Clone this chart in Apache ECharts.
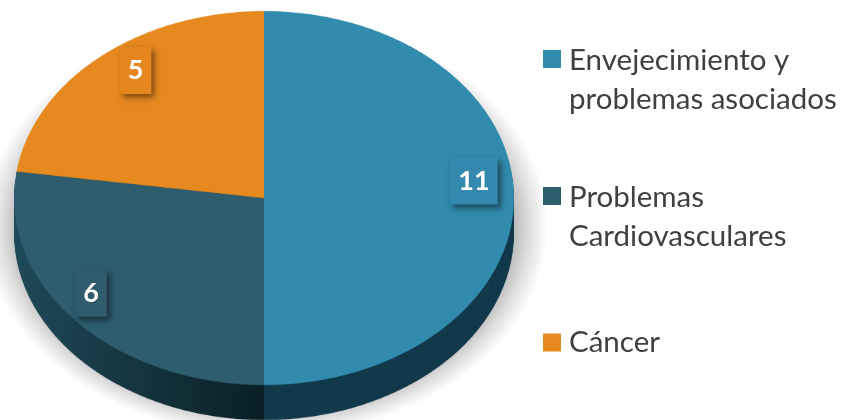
<!DOCTYPE html>
<html>
<head>
<meta charset="utf-8">
<script src="https://cdn.jsdelivr.net/npm/echarts@6/dist/echarts.min.js"></script>
<style>
  html, body { margin: 0; padding: 0; background: #ffffff; }
  #wrap { position: relative; width: 846px; height: 420px; overflow: hidden; background: #fff; }
  #pie { position: absolute; left: 0; top: 0; width: 846px; transform-origin: 0 0; }
  #over { position: absolute; left: 0; top: 0; width: 846px; height: 420px; }
</style>
</head>
<body>
<div id="wrap">
  <div id="pie"></div>
  <div id="over"></div>
</div>
<script>
// ---- data ----
const categories = ['Envejecimiento y\nproblemas asociados', 'Problemas\nCardiovasculares', 'Cáncer'];
const values = [11, 6, 5];

// ---- styling ----
const topColors = ['#318bad', '#2e5d6d', '#e6891f'];
const sideColors = [
  '#11394a',
  { type: 'linear', x: 0, y: 0, x2: 1, y2: 0, colorStops: [{ offset: 0, color: '#1f4a57' }, { offset: 1, color: '#0a1f26' }] },
  '#9a5a12'
];
const labelBg = ['#3389ae', '#2f5b6b', '#e5861f'];
const labelNudge = [[-3, -3], [-12, 5], [11, 7]];

// ellipse geometry (screen px)
const CX = 264, CY = 198, A = 250, B = 187, DEPTH = 35;
const K = B / A;
const LABEL_CY = 184;

const pieDiv = document.getElementById('pie');
const innerH = Math.ceil(440 / K) + 10;
pieDiv.style.height = innerH + 'px';
pieDiv.style.transform = 'scaleY(' + K + ')';

const pieChart = echarts.init(pieDiv, null, { renderer: 'canvas' });

function sliceData(colors, extra, prefix) {
  return values.map((v, i) => ({
    value: v,
    name: (prefix || '') + categories[i],
    itemStyle: Object.assign({ color: colors[i] }, extra || {})
  }));
}

const baseSeries = {
  type: 'pie',
  radius: A,
  startAngle: 90,
  clockwise: true,
  silent: true,
  animation: false,
  label: { show: false },
  labelLine: { show: false },
  emphasis: { disabled: true }
};

const pieSeries = [];
// soft drop shadow under the disc (global radial gradient)
const SH_R = 282;
const SH_CX = CX + 2;
const SH_CY = 226 / K;
const shadowFill = {
  type: 'radial', global: true, x: SH_CX, y: SH_CY, r: SH_R,
  colorStops: [
    { offset: 0, color: 'rgba(0,0,0,0.30)' },
    { offset: 248 / SH_R, color: 'rgba(0,0,0,0.27)' },
    { offset: 262 / SH_R, color: 'rgba(0,0,0,0.14)' },
    { offset: 1, color: 'rgba(0,0,0,0)' }
  ]
};
pieSeries.push(Object.assign({}, baseSeries, {
  center: [SH_CX, SH_CY],
  radius: SH_R,
  data: sliceData([shadowFill, shadowFill, shadowFill], { borderWidth: 0 }, 'shadow-')
}));
let layer = 0;
for (let d = DEPTH; d > 0; d -= 3) {
  pieSeries.push(Object.assign({}, baseSeries, {
    center: [CX, (CY + d) / K],
    data: sliceData(sideColors, { borderWidth: 0 }, 'side' + (layer++) + '-')
  }));
}
pieSeries.push(Object.assign({}, baseSeries, {
  center: [CX, CY / K],
  data: sliceData(topColors, { borderWidth: 0 })
}));
pieChart.setOption({ animation: false, series: pieSeries });

// ---- overlay: legend + value labels ----
const over = echarts.init(document.getElementById('over'), null, { renderer: 'canvas' });
const legendFont = { fontFamily: 'Lato', fontSize: 29.5, color: '#404040', lineHeight: 39 };
const iconTwoLine = 'path://M0,0h0.01v0.01h-0.01z M0,9h18v18h-18z M20.99,77.99h0.01v0.01h-0.01z';
const iconOneLine = 'path://M0,0h18v18h-18z M20.99,17.99h0.01v0.01h-0.01z';
const legendTops = [41, 178, 323];

const legends = categories.map((name, i) => {
  const twoLine = name.indexOf('\n') >= 0;
  return {
    left: 543,
    top: legendTops[i],
    padding: 0,
    orient: 'vertical',
    selectedMode: false,
    itemWidth: 21,
    itemHeight: twoLine ? 78 : 18,
    textStyle: legendFont,
    data: [{ name: name, icon: twoLine ? iconTwoLine : iconOneLine, itemStyle: { color: topColors[i], opacity: 1 } }]
  };
});

const innerR = 0.84 * A;
over.setOption({
  animation: false,
  legend: legends,
  series: [{
    type: 'pie',
    center: [CX, LABEL_CY],
    radius: [innerR - 40, innerR + 40],
    startAngle: 90,
    clockwise: true,
    silent: true,
    animation: false,
    emphasis: { disabled: true },
    labelLine: { show: false },
    itemStyle: { color: 'rgba(0,0,0,0)', borderWidth: 0 },
    label: {
      show: true,
      position: 'inside',
      formatter: '{c}',
      color: '#ffffff',
      fontFamily: 'Lato',
      fontWeight: 'bold',
      fontSize: 27,
      lineHeight: 27,
      padding: [10, 8],
      shadowBlur: 6,
      shadowOffsetX: 3,
      shadowOffsetY: 3,
      shadowColor: 'rgba(0,0,0,0.5)'
    },
    labelLayout: function (p) {
      const r = p.labelRect;
      const lx = r.x + r.width / 2;
      const ly = r.y + r.height / 2;
      const n = labelNudge[p.dataIndex] || [0, 0];
      return { x: lx + n[0], y: LABEL_CY + (ly - LABEL_CY) * K + n[1] };
    },
    data: values.map((v, i) => ({
      value: v,
      name: categories[i],
      label: { backgroundColor: labelBg[i] }
    }))
  }]
});
</script>
</body>
</html>
